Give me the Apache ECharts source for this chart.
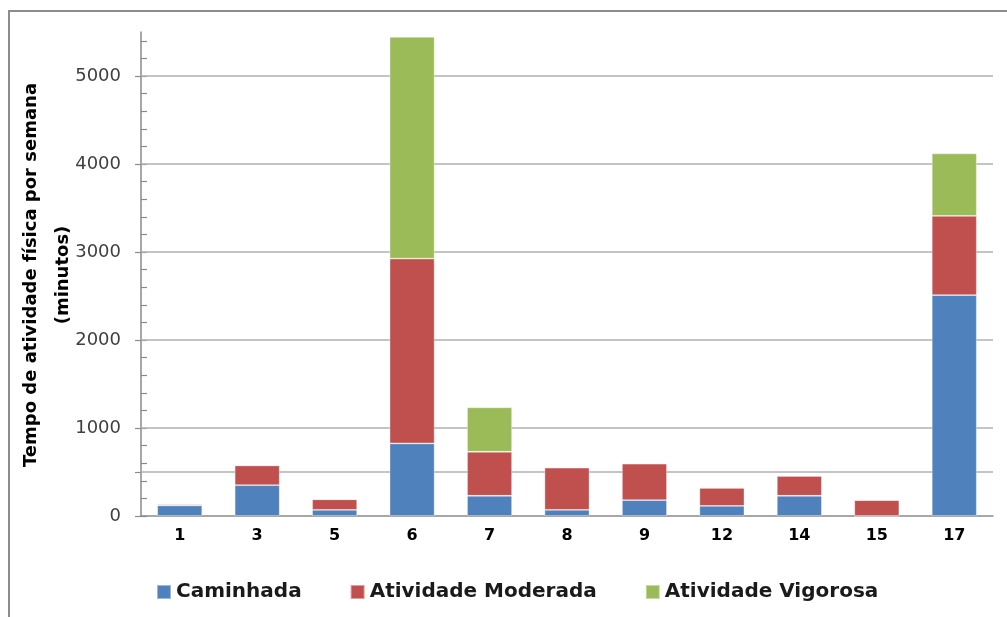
<!DOCTYPE html>
<html>
<head>
<meta charset="utf-8">
<script src="https://cdn.jsdelivr.net/npm/echarts@6/dist/echarts.min.js"></script>
<style>
  html, body { margin: 0; padding: 0; background: #fff; }
  #chart { width: 1007px; height: 617px; }
</style>
</head>
<body>
<div id="chart"></div>
<script>
// Weekly physical activity time (minutes) per participant
const participants = ['1', '3', '5', '6', '7', '8', '9', '12', '14', '15', '17'];
const caminhada = [120, 350, 70, 825, 230, 70, 180, 115, 230, 0, 2510];
const moderada = [15, 225, 120, 2100, 500, 480, 415, 205, 225, 180, 900];
const vigorosa = [0, 0, 0, 2520, 505, 0, 0, 0, 0, 0, 710];

const seriesNames = ['Caminhada', 'Atividade Moderada', 'Atividade Vigorosa'];
const seriesColors = ['#4f81bd', '#c0504d', '#9bbb59'];

const yLabelValues = [0, 1000, 2000, 3000, 4000, 5000];
const yTickValues = [0, 500, 1000, 2000, 3000, 4000, 5000];
const gridLineValues = [500, 1000, 2000, 3000, 4000, 5000];
const yMax = 5500;
const minorStep = 200;

const minorTickValues = [];
for (let v = 0; v < yMax; v += minorStep) minorTickValues.push(v);

const font = 'DejaVu Sans';
const axisGray = '#8a8a8a';

const chart = echarts.init(document.getElementById('chart'), null, { renderer: 'canvas' });

function barSeries(name, data, color) {
  return {
    name: name,
    type: 'bar',
    stack: 'total',
    data: data,
    barWidth: 45,
    itemStyle: { color: color, borderColor: 'rgba(255,255,255,0.45)', borderWidth: 0.8 },
    emphasis: { disabled: true }
  };
}

chart.setOption({
  animation: false,
  grid: { left: 141, right: 14, top: 32, bottom: 101, containLabel: false },
  legend: {
    data: seriesNames,
    left: 151,
    top: 577,
    itemWidth: 14,
    itemHeight: 14,
    itemGap: 48,
    icon: 'rect',
    textStyle: { fontFamily: font, fontSize: 20, fontWeight: 'bold', color: '#1a1a1a' }
  },
  xAxis: {
    type: 'category',
    data: participants,
    axisLine: { lineStyle: { color: axisGray, width: 1.5 } },
    axisTick: { show: false },
    axisLabel: { fontFamily: font, fontSize: 16, fontWeight: 'bold', color: '#000', margin: 12 }
  },
  yAxis: [
    {
      type: 'value',
      min: 0,
      max: yMax,
      interval: 1000,
      axisLine: { show: true, lineStyle: { color: axisGray, width: 1.5 } },
      axisTick: { show: true, inside: false, length: 6, customValues: yTickValues, lineStyle: { color: axisGray, width: 1.2 } },
      axisLabel: {
        customValues: yLabelValues,
        formatter: v => String(v),
        fontFamily: font, fontSize: 18, color: '#404040', margin: 20
      },
      splitLine: { show: false }
    },
    {
      type: 'value',
      position: 'left',
      min: 0,
      max: yMax,
      interval: minorStep,
      axisLine: { show: false },
      axisTick: { show: true, inside: true, length: 6, customValues: minorTickValues, lineStyle: { color: axisGray, width: 1.2 } },
      axisLabel: { show: false },
      splitLine: { show: false }
    }
  ],
  series: [
    barSeries(seriesNames[0], caminhada, seriesColors[0]),
    barSeries(seriesNames[1], moderada, seriesColors[1]),
    barSeries(seriesNames[2], vigorosa, seriesColors[2]),
    {
      name: 'grade',
      type: 'line',
      data: [],
      silent: true,
      markLine: {
        silent: true,
        z: 1,
        symbol: ['none', 'none'],
        label: { show: false },
        lineStyle: { color: '#b0b0b0', width: 1.5, type: 'solid' },
        emphasis: { disabled: true },
        data: gridLineValues.map(v => ({ yAxis: v }))
      }
    }
  ],
  graphic: [
    {
      type: 'rect',
      silent: true,
      shape: { x: 9, y: 11, width: 1010, height: 620 },
      style: { fill: 'none', stroke: '#8c8c8c', lineWidth: 2 }
    },
    {
      type: 'text',
      silent: true,
      x: 31, y: 275,
      rotation: Math.PI / 2,
      style: {
        text: 'Tempo de atividade física por semana',
        font: 'bold 18px "DejaVu Sans"',
        fill: '#000',
        textAlign: 'center',
        textVerticalAlign: 'middle'
      }
    },
    {
      type: 'text',
      silent: true,
      x: 63, y: 275,
      rotation: Math.PI / 2,
      style: {
        text: '(minutos)',
        font: 'bold 18px "DejaVu Sans"',
        fill: '#000',
        textAlign: 'center',
        textVerticalAlign: 'middle'
      }
    }
  ]
});
</script>
</body>
</html>
